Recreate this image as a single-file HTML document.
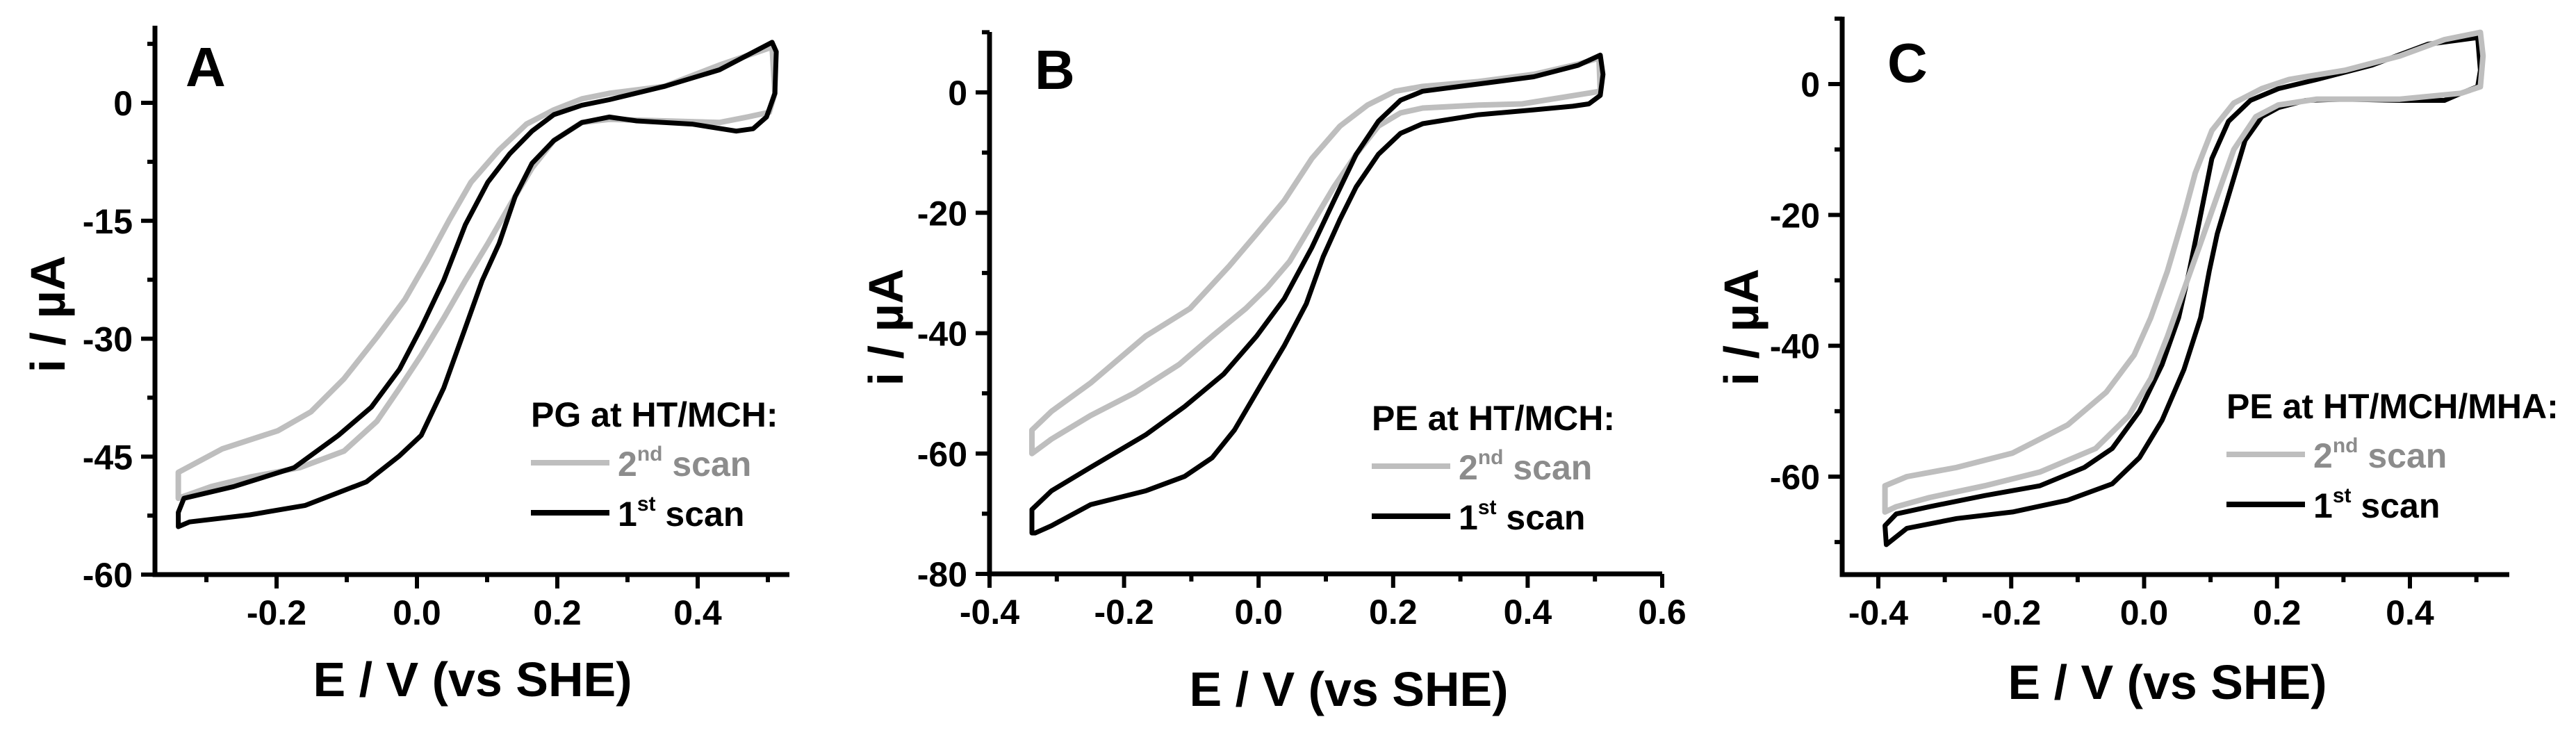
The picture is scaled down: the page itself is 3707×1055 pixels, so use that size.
<!DOCTYPE html>
<html><head><meta charset="utf-8"><style>
html,body{margin:0;padding:0;background:#fff;}
svg{display:block;font-family:"Liberation Sans",Arial,sans-serif;font-weight:bold;}
</style></head><body>
<svg id="fig" width="3707" height="1055" viewBox="0 0 3707 1055" xmlns="http://www.w3.org/2000/svg"></svg>
<script>
// Panel A data (V, uA)
const aBlackV=[-0.340,-0.332,-0.261,-0.175,-0.112,-0.065,-0.025,0.006,0.038,0.069,0.101,0.132,0.164,0.195,0.235,0.274,0.353,0.431,0.506,0.512,0.510,0.498,0.479,0.455,0.392,0.313,0.274,0.235,0.195,0.164,0.140,0.117,0.093,0.069,0.038,0.006,-0.025,-0.072,-0.159,-0.238,-0.324,-0.340,-0.340];
const aBlackI=[-52.1,-50.3,-48.8,-46.4,-42.3,-38.7,-33.9,-28.6,-22.6,-15.5,-10.1,-6.5,-3.6,-1.5,-0.3,0.4,2.1,4.2,7.7,6.5,1.2,-1.8,-3.3,-3.6,-2.7,-2.3,-1.8,-2.5,-4.8,-7.7,-11.9,-17.9,-22.6,-28.6,-36.3,-42.3,-44.9,-48.2,-51.2,-52.4,-53.3,-53.9,-52.1];
const aGrayV=[-0.340,-0.277,-0.198,-0.151,-0.104,-0.057,-0.017,0.014,0.046,0.077,0.117,0.156,0.195,0.235,0.274,0.353,0.431,0.506,0.510,0.502,0.471,0.431,0.353,0.274,0.235,0.195,0.164,0.132,0.101,0.069,0.038,0.006,-0.025,-0.057,-0.104,-0.167,-0.238,-0.293,-0.340,-0.340];
const aGrayI=[-47.0,-44.0,-41.7,-39.3,-35.1,-29.8,-25.0,-20.2,-14.9,-10.1,-6.0,-2.7,-0.9,0.5,1.2,2.1,4.8,7.1,1.2,-1.2,-1.8,-2.5,-2.3,-2.1,-2.5,-4.8,-8.3,-13.1,-17.9,-22.6,-27.4,-32.1,-36.3,-40.5,-44.3,-46.4,-47.6,-48.8,-50.3,-47.0];
const aYTicks=[0,-15,-30,-45,-60];
const aXTicks=[-0.2,0.0,0.2,0.4];
// Panel B data
const bBlackV=[-0.337,-0.337,-0.308,-0.250,-0.168,-0.110,-0.052,-0.003,0.038,0.079,0.112,0.145,0.178,0.211,0.244,0.327,0.409,0.475,0.508,0.512,0.508,0.491,0.467,0.409,0.327,0.244,0.211,0.178,0.145,0.121,0.096,0.071,0.038,0.005,-0.036,-0.069,-0.110,-0.168,-0.250,-0.308,-0.332,-0.337];
const bBlackI=[-73.2,-69.3,-66.2,-62.3,-56.9,-52.2,-46.8,-40.5,-34.3,-25.8,-18.0,-10.3,-4.8,-1.3,0.2,1.4,2.6,4.5,6.2,3.0,-0.5,-1.9,-2.3,-2.9,-3.7,-5.2,-6.8,-10.3,-15.7,-21.1,-27.3,-35.1,-42.1,-48.3,-56.1,-60.7,-63.8,-66.2,-68.5,-72.0,-73.2,-73.2];
const bGrayV=[-0.337,-0.337,-0.308,-0.250,-0.168,-0.102,-0.044,-0.003,0.038,0.079,0.121,0.162,0.203,0.244,0.327,0.409,0.475,0.506,0.508,0.392,0.327,0.244,0.211,0.178,0.145,0.112,0.079,0.046,0.013,-0.019,-0.069,-0.118,-0.184,-0.250,-0.308,-0.337];
const bGrayI=[-60.0,-56.1,-53.0,-48.3,-40.5,-35.9,-28.9,-23.5,-18.0,-11.0,-5.6,-2.1,0.2,1.0,1.8,3.0,4.7,5.7,0.2,-1.9,-2.1,-2.6,-3.4,-5.6,-10.3,-15.7,-21.9,-28.1,-32.4,-35.9,-40.5,-45.2,-49.9,-53.7,-57.6,-60.0];
const bYTicks=[0,-20,-40,-60,-80];
const bXTicks=[-0.4,-0.2,0.0,0.2,0.4,0.6];
// Panel C data
const cBlackV=[-0.388,-0.390,-0.373,-0.323,-0.240,-0.157,-0.090,-0.048,-0.007,0.027,0.052,0.068,0.085,0.102,0.127,0.160,0.202,0.260,0.343,0.427,0.502,0.506,0.502,0.477,0.452,0.385,0.302,0.243,0.202,0.177,0.152,0.127,0.110,0.098,0.085,0.060,0.027,-0.007,-0.048,-0.115,-0.198,-0.282,-0.357,-0.388];
const cBlackI=[-70.4,-67.5,-65.7,-64.6,-62.9,-61.4,-58.6,-55.7,-50.0,-42.9,-35.7,-28.6,-20.0,-11.4,-5.7,-2.5,-0.7,0.7,2.9,6.1,7.1,2.1,-0.4,-1.4,-2.5,-2.5,-2.3,-2.5,-3.6,-5.0,-8.6,-17.1,-22.9,-28.6,-35.7,-43.6,-51.4,-57.1,-61.1,-63.6,-65.4,-66.4,-67.9,-70.4];
const cGrayV=[-0.390,-0.390,-0.357,-0.282,-0.198,-0.115,-0.057,-0.015,0.010,0.035,0.060,0.077,0.102,0.135,0.177,0.218,0.302,0.385,0.452,0.506,0.510,0.506,0.477,0.385,0.260,0.202,0.168,0.135,0.110,0.085,0.060,0.035,0.010,-0.023,-0.073,-0.157,-0.240,-0.323,-0.373,-0.390];
const cGrayI=[-65.4,-61.4,-60.0,-58.6,-56.4,-52.1,-47.1,-41.4,-35.7,-28.6,-20.0,-13.6,-7.1,-2.9,-0.7,0.7,2.1,4.3,6.8,7.9,4.3,-0.4,-1.4,-2.3,-2.3,-3.2,-5.0,-10.0,-17.1,-24.3,-31.4,-38.6,-45.0,-50.7,-55.7,-59.3,-61.4,-63.2,-64.6,-65.4];
const cYTicks=[0,-20,-40,-60];
const cXTicks=[-0.4,-0.2,0.0,0.2,0.4];

const NS="http://www.w3.org/2000/svg";
const svg=document.getElementById('fig');
function mk(tag,attrs,parent){const e=document.createElementNS(NS,tag);for(const k in attrs)e.setAttribute(k,attrs[k]);(parent||svg).appendChild(e);return e;}

function panel(p){
  const g=mk('g',{});
  
  
  const sx=v=>p.x0+(v-p.v0)*(p.x1-p.x0)/(p.v1-p.v0);
  const sy=i=>p.y0+(i-p.i0)*(p.y1-p.y0)/(p.i1-p.i0);
  const axX=p.axisLeft, axY=p.axisBottom;
  function curve(V,I,color,w,name){
    let d='';for(let k=0;k<V.length;k++)d+=(k?'L':'M')+sx(V[k]).toFixed(1)+','+sy(I[k]).toFixed(1);
    const path=mk('path',{d:d,fill:'none',stroke:color,'stroke-width':w,'stroke-linejoin':'round','stroke-linecap':'round'},g);
    
    
  }
  if(p.grayTop){curve(p.bV,p.bI,'#000',7,'first-scan-curve');curve(p.gV,p.gI,'#bebebe',8,'second-scan-curve');}
  else{curve(p.gV,p.gI,'#bebebe',8,'second-scan-curve');curve(p.bV,p.bI,'#000',7,'first-scan-curve');}
  const ya=mk('line',{x1:axX,y1:p.axisTop,x2:axX,y2:axY+3.5,stroke:'#000','stroke-width':7},g);
  
  const xa=mk('line',{x1:axX-3.5,y1:axY,x2:p.axisRight,y2:axY,stroke:'#000','stroke-width':7},g);
  
  p.yT.forEach(t=>{
    const y=sy(t);
    mk('line',{x1:axX-20,y1:y,x2:axX,y2:y,stroke:'#000','stroke-width':6},g);
    const tx=mk('text',{x:axX-32,y:y+18,'font-size':50,'text-anchor':'end'},g);
    tx.textContent=String(t);
    
  });
  for(let t=p.yMinorStart;t<=p.yMinorEnd+1e-9;t+=p.yMinorStep){
    const y=sy(t);mk('line',{x1:axX-11,y1:y,x2:axX,y2:y,stroke:'#000','stroke-width':6},g);
  }
  p.xT.forEach(t=>{
    const x=sx(t);
    mk('line',{x1:x,y1:axY,x2:x,y2:axY+20,stroke:'#000','stroke-width':6},g);
    const tx=mk('text',{x:x,y:axY+72,'font-size':50,'text-anchor':'middle'},g);
    tx.textContent=t.toFixed(1);
    
  });
  p.xMinor.forEach(t=>{const x=sx(t);mk('line',{x1:x,y1:axY,x2:x,y2:axY+11,stroke:'#000','stroke-width':6},g);});
  const xt=mk('text',{x:p.xtX,y:p.xtY,'font-size':70,'text-anchor':'middle'},g);
  xt.textContent='E / V (vs SHE)';
  
  const yt=mk('text',{x:0,y:0,'font-size':70,'text-anchor':'middle',transform:'translate('+(p.ytX+25)+','+p.ytY+') rotate(-90)'},g);
  yt.textContent='i / µA';
  
  const lt=mk('text',{x:p.lx,y:p.ly,'font-size':80},g);
  lt.textContent=p.id;
  
  const lg=mk('g',{},g);
  
  const h=mk('text',{x:p.legX,y:p.legY,'font-size':50},lg);
  h.textContent=p.legTitle;
  
  const entries=[['#bebebe','#8c8c8c','2','nd','second-scan'],['#000','#000','1','st','first-scan']];
  entries.forEach((e,k)=>{
    const by=p.legY+71+k*72;
    mk('line',{x1:p.legX,y1:by-19,x2:p.legX+113,y2:by-19,stroke:e[0],'stroke-width':8},lg);
    const t=mk('text',{x:p.legX+125,y:by,'font-size':50,fill:e[1]},lg);
    
    const a=mk('tspan',{},t);a.textContent=e[2];
    const s=mk('tspan',{dy:-22,'font-size':30},t);s.textContent=e[3];
    const r=mk('tspan',{dy:22},t);r.textContent=' scan';
  });
}

panel({id:'A',x0:600,x1:1004,v0:0,v1:0.4,y0:148,y1:827,i0:0,i1:-60,axisLeft:223,axisBottom:827,axisTop:37,axisRight:1136,
  bV:aBlackV,bI:aBlackI,gV:aGrayV,gI:aGrayI,yT:aYTicks,xT:aXTicks,yMinorStart:-52.5,yMinorEnd:7.5,yMinorStep:15,xMinor:[-0.3,-0.1,0.1,0.3,0.5],
  xtX:680,xtY:1002,ytX:68,ytY:452,lx:267,ly:124,legX:764,legY:614,legTitle:'PG at HT/MCH:',grayTop:false});
panel({id:'B',x0:1424,x1:2392,v0:-0.4,v1:0.6,y0:133,y1:826,i0:0,i1:-80,axisLeft:1424,axisBottom:826,axisTop:46,axisRight:2392,
  bV:bBlackV,bI:bBlackI,gV:bGrayV,gI:bGrayI,yT:bYTicks,xT:bXTicks,yMinorStart:-70,yMinorEnd:10,yMinorStep:20,xMinor:[-0.3,-0.1,0.1,0.3,0.5],
  xtX:1941,xtY:1016,ytX:1274,ytY:471,lx:1489,ly:128,legX:1974,legY:619,legTitle:'PE at HT/MCH:',grayTop:false});
panel({id:'C',x0:2703,x1:3468,v0:-0.4,v1:0.4,y0:121,y1:686,i0:0,i1:-60,axisLeft:2651,axisBottom:827,axisTop:24,axisRight:3611,
  bV:cBlackV,bI:cBlackI,gV:cGrayV,gI:cGrayI,yT:cYTicks,xT:cXTicks,yMinorStart:-70,yMinorEnd:10,yMinorStep:20,xMinor:[-0.3,-0.1,0.1,0.3,0.5],
  xtX:3119,xtY:1006,ytX:2505,ytY:471,lx:2716,ly:118,legX:3204,legY:602,legTitle:'PE at HT/MCH/MHA:',grayTop:true});
</script>
</body></html>
